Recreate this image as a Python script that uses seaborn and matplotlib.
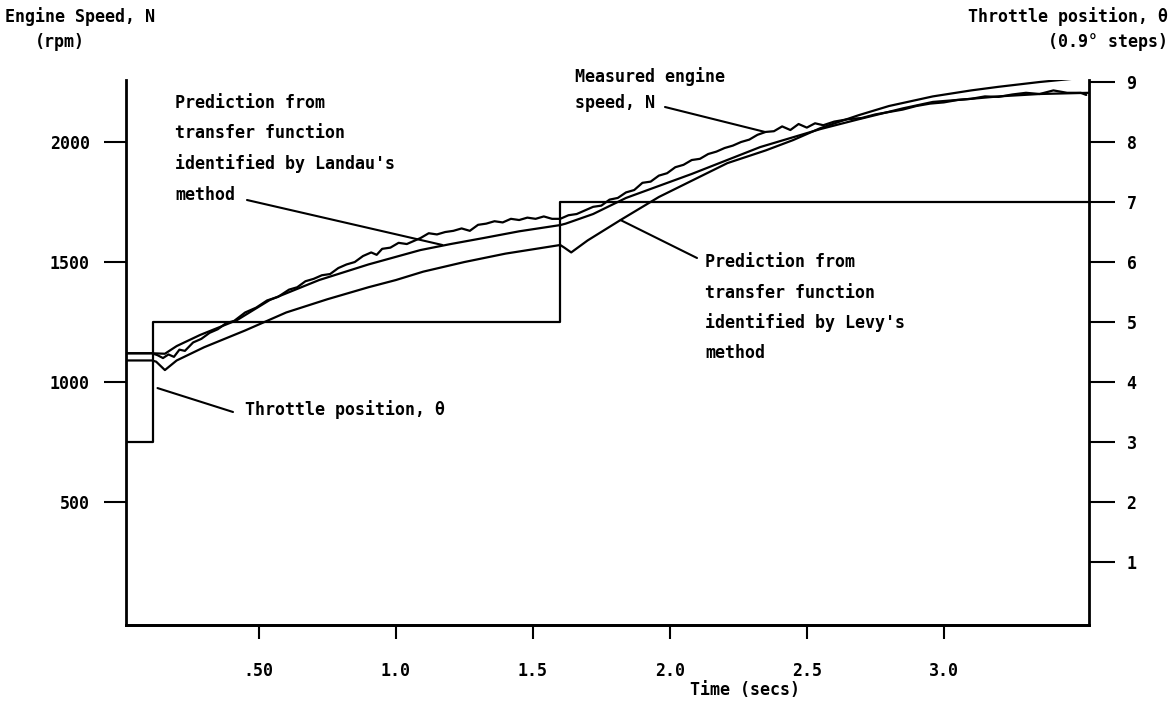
import matplotlib
matplotlib.use("Agg")
import matplotlib.pyplot as plt
import numpy as np
import pandas as pd
import seaborn as sns

# ---------------- data ----------------
meas_t = [0.015, 0.11, 0.13, 0.15, 0.17, 0.19, 0.21, 0.23, 0.26, 0.29, 0.32, 0.35,
          0.38, 0.41, 0.45, 0.49, 0.53, 0.57, 0.61, 0.64, 0.67, 0.70, 0.73, 0.76,
          0.79, 0.82, 0.85, 0.88, 0.91, 0.93, 0.95, 0.98, 1.01, 1.04, 1.07, 1.09,
          1.12, 1.15, 1.18, 1.21, 1.24, 1.27, 1.30, 1.33, 1.36, 1.39, 1.42, 1.45,
          1.48, 1.51, 1.54, 1.57, 1.60, 1.63, 1.66, 1.69, 1.72, 1.75, 1.78, 1.81,
          1.84, 1.87, 1.90, 1.93, 1.96, 1.99, 2.02, 2.05, 2.08, 2.11, 2.14, 2.17,
          2.20, 2.23, 2.26, 2.29, 2.32, 2.35, 2.38, 2.41, 2.44, 2.47, 2.50, 2.53,
          2.56, 2.60, 2.65, 2.70, 2.75, 2.80, 2.85, 2.90, 2.95, 3.00, 3.05, 3.10,
          3.15, 3.20, 3.25, 3.30, 3.35, 3.40, 3.45, 3.50, 3.52]
meas_rpm = [1120, 1120, 1112, 1100, 1115, 1105, 1135, 1130, 1165, 1180, 1205, 1220,
            1245, 1255, 1290, 1310, 1340, 1355, 1385, 1395, 1420, 1430, 1445, 1450,
            1475, 1490, 1500, 1525, 1540, 1530, 1555, 1560, 1580, 1575, 1590, 1600,
            1620, 1615, 1625, 1630, 1640, 1630, 1655, 1660, 1670, 1665, 1680, 1675,
            1685, 1680, 1690, 1680, 1680, 1695, 1700, 1715, 1730, 1735, 1760, 1767,
            1790, 1800, 1830, 1835, 1860, 1870, 1895, 1905, 1925, 1930, 1950, 1960,
            1975, 1985, 2000, 2010, 2030, 2042, 2045, 2065, 2050, 2075, 2060, 2078,
            2070, 2085, 2095, 2100, 2115, 2125, 2135, 2150, 2160, 2165, 2175, 2180,
            2190, 2188, 2198, 2205, 2200, 2215, 2205, 2205, 2196]

landau_t = [0.015, 0.11, 0.157, 0.2, 0.285, 0.42, 0.54, 0.72, 0.9, 1.09, 1.2, 1.32,
            1.45, 1.6, 1.62, 1.72, 1.84, 2.08, 2.33, 2.55, 2.69, 2.85, 2.96, 3.1,
            3.2, 3.35, 3.53]
landau_rpm = [1120, 1120, 1118, 1150, 1196, 1258, 1342, 1425, 1490, 1550, 1575, 1600,
              1628, 1654, 1660, 1700, 1767, 1867, 1979, 2054, 2095, 2140, 2167, 2180,
              2190, 2200, 2205]

levy_t = [0.015, 0.11, 0.125, 0.157, 0.2, 0.3, 0.45, 0.6, 0.75, 0.9, 1.0, 1.1, 1.25,
          1.4, 1.5, 1.6, 1.615, 1.64, 1.7, 1.82, 1.96, 2.1, 2.21, 2.35, 2.45, 2.55,
          2.69, 2.8, 2.96, 3.1, 3.2, 3.35, 3.53]
levy_rpm = [1090, 1090, 1085, 1050, 1090, 1145, 1215, 1290, 1345, 1395, 1425, 1460,
            1500, 1535, 1553, 1571, 1560, 1540, 1590, 1675, 1771, 1850, 1912, 1965,
            2008, 2058, 2112, 2150, 2190, 2215, 2230, 2250, 2270]

throttle_t = [0.015, 0.115, 0.115, 1.598, 1.598, 3.53]
throttle_steps = [3, 3, 5, 5, 7, 7]

x_ticks = [0.5, 1.0, 1.5, 2.0, 2.5, 3.0]
x_ticklabels = [".50", "1.0", "1.5", "2.0", "2.5", "3.0"]
rpm_ticks = [500, 1000, 1500, 2000]
rpm_ticklabels = ["500", "1000", "1500", "2000"]
thr_ticks = [1, 2, 3, 4, 5, 6, 7, 8, 9]

# ---------------- style ----------------
sns.set_theme(style="ticks")
plt.rcParams["font.family"] = ["DejaVu Sans Mono", "DejaVu Sans"]
plt.rcParams["font.weight"] = "bold"
plt.rcParams["text.color"] = "black"

W, H = 1175, 713
fig = plt.figure(figsize=(W / 100, H / 100), dpi=100)
ax = fig.add_axes([126 / W, 1 - 625 / H, (1089 - 126) / W, 545.4 / H])

RPM_PER_STEP = 250.0
ylo, yhi = -12, 2260
ax.set_xlim(0.015, 3.53)
ax.set_ylim(ylo, yhi)

lw = 1.6
df_m = pd.DataFrame({"t": meas_t, "v": meas_rpm})
df_a = pd.DataFrame({"t": landau_t, "v": landau_rpm})
df_b = pd.DataFrame({"t": levy_t, "v": levy_rpm})
for d in (df_m, df_a, df_b):
    sns.lineplot(data=d, x="t", y="v", ax=ax, color="black", lw=lw,
                 sort=False, estimator=None, legend=False)

ax2 = ax.twinx()
ax2.set_ylim(ylo / RPM_PER_STEP, yhi / RPM_PER_STEP)
df_th = pd.DataFrame({"t": throttle_t, "v": throttle_steps})
sns.lineplot(data=df_th, x="t", y="v", ax=ax2, color="black", lw=lw,
             sort=False, estimator=None, legend=False)

for a in (ax, ax2):
    a.set_xlabel("")
    a.set_ylabel("")
    a.spines["top"].set_visible(False)
    for s in ("left", "right", "bottom"):
        a.spines[s].set_linewidth(2)
        a.spines[s].set_color("black")
ax.spines["right"].set_visible(False)
ax2.spines["left"].set_visible(False)

ax.set_xticks(x_ticks)
ax.set_xticklabels(x_ticklabels)
ax.set_yticks(rpm_ticks)
ax.set_yticklabels(rpm_ticklabels)
ax2.set_yticks(thr_ticks)
ax2.set_yticklabels([str(v) for v in thr_ticks])

ax.tick_params(axis="x", direction="out", length=10, width=1.5, pad=17,
               labelsize=12, colors="black")
ax.tick_params(axis="y", direction="out", length=16, width=1.5, pad=10,
               labelsize=12, colors="black")
ax2.tick_params(axis="y", direction="out", length=19, width=1.5, pad=8,
                labelsize=12, colors="black")


def fx(px):
    return px / W


def fy(py):
    return 1 - py / H


fs = 12
tc = "black"
# axis titles
fig.text(fx(5), fy(17), "Engine Speed, N", ha="left", va="center", fontsize=fs, color=tc)
fig.text(fx(35), fy(42), "(rpm)", ha="left", va="center", fontsize=fs, color=tc)
fig.text(fx(1168), fy(17), "Throttle position, θ", ha="right", va="center", fontsize=fs, color=tc)
fig.text(fx(1168), fy(42), "(0.9° steps)", ha="right", va="center", fontsize=fs, color=tc)
fig.text(fx(745), fy(690), "Time (secs)", ha="center", va="center", fontsize=fs, color=tc)


def block(x, y0, lines, pitch=30.5):
    objs = []
    for i, s in enumerate(lines):
        objs.append(fig.text(fx(x), fy(y0 + i * pitch), s, ha="left", va="center",
                             fontsize=fs, color=tc))
    return objs


landau_txt = block(175, 103, ["Prediction from", "transfer function",
                              "identified by Landau's", "method"])
meas_txt = block(575, 77, ["Measured engine", "speed, N"], pitch=26)
levy_txt = block(705, 262, ["Prediction from", "transfer function",
                            "identified by Levy's", "method"])
thr_txt = block(245, 410, ["Throttle position, θ"])

fig.canvas.draw()
rend = fig.canvas.get_renderer()


def right_end(txt):
    bb = txt.get_window_extent(rend)
    return bb.x1  # pixels from left


def leader(start_px, end_data, axis=ax):
    ax.annotate("", xy=end_data, xycoords=axis.transData,
                xytext=(fx(start_px[0]), fy(start_px[1])), textcoords="figure fraction",
                arrowprops=dict(arrowstyle="-", lw=1.5, color="black",
                                shrinkA=0, shrinkB=0))


leader((right_end(landau_txt[3]) + 12, 200), (1.17, 1571))
leader((right_end(meas_txt[1]) + 10, 107), (2.347, 2042))
leader((697, 258), (1.82, 1675))
leader((233, 412), (0.13, 975))

fig.savefig("out.png", dpi=100, facecolor="white")
